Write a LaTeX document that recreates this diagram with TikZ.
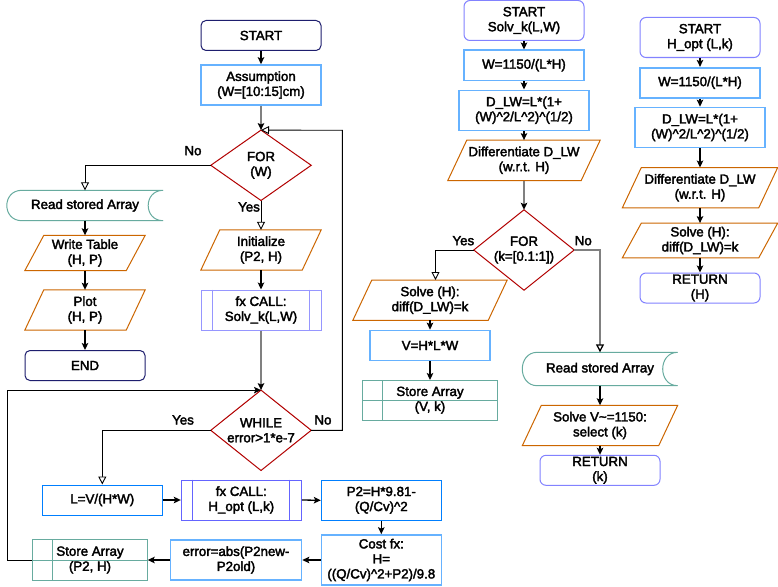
\documentclass[tikz,border=0pt]{standalone}
\usepackage{fontspec}
\usetikzlibrary{arrows.meta,calc}
\newfontfamily\dfont{Liberation Sans}[FakeBold=2.5]
\newcommand\crt{\textasciicircum}
\definecolor{navy}{RGB}{30,30,110}
\definecolor{lav}{RGB}{130,130,255}
\definecolor{fxa}{RGB}{150,150,255}
\definecolor{fxb}{RGB}{100,100,255}
\definecolor{blueL}{RGB}{102,178,255}
\definecolor{blueD}{RGB}{0,127,255}
\definecolor{tealc}{RGB}{103,171,159}
\definecolor{orangec}{RGB}{204,102,0}
\definecolor{redc}{RGB}{178,0,0}
\definecolor{grayc}{RGB}{128,128,128}
\newcommand\drawpara[1]{\draw[orangec,line width=1pt] ([xshift=19pt]#1.north west) -- (#1.north east) -- ([xshift=-19pt]#1.south east) -- (#1.south west) -- cycle;}
\newcommand\drawdia[1]{\draw[redc,line width=1pt] (#1.north) -- (#1.east) -- (#1.south) -- (#1.west) -- cycle;}
\newcommand\drawdatast[1]{\draw[tealc,line width=1pt] ([xshift=15pt]#1.north west) -- (#1.north east) .. controls ([xshift=-20pt]#1.north east) and ([xshift=-20pt]#1.south east) .. (#1.south east) -- ([xshift=15pt]#1.south west) .. controls ([xshift=-5pt]#1.south west) and ([xshift=-5pt]#1.north west) .. ([xshift=15pt]#1.north west) -- cycle;}
\newcommand\drawintst[1]{\draw[tealc,line width=1pt] (#1.north west) rectangle (#1.south east) ([xshift=20pt]#1.north west) -- ([xshift=20pt]#1.south west) (#1.west) -- (#1.east);}
\newcommand\drawfx[2]{\draw[#2,line width=1pt] ([xshift=12pt]#1.north west) -- ([xshift=12pt]#1.south west) ([xshift=-12pt]#1.north east) -- ([xshift=-12pt]#1.south east);}
\begin{document}
\begin{tikzpicture}[x=1pt,y=-1pt,
  base/.style={inner sep=0pt, align=center, font=\dfont\fontsize{13.3}{15}\selectfont, text=black},
  sz/.style 2 args={minimum width=#1pt, minimum height=#2pt},
  rnavy/.style={base, draw=navy, rounded corners=5pt, line width=1pt},
  rlav/.style={base, draw=lav, rounded corners=6pt, line width=1pt},
  bluet/.style={base, draw=blueL, line width=1.6pt},
  blued/.style={base, draw=blueD, line width=1pt},
  fxbox/.style={base, draw=#1, line width=1pt},
  plainbox/.style={base},
  lbl/.style={base},
  arr/.style={-{Stealth[length=7pt,width=6.5pt,inset=1.5pt]}, line width=1.3pt, black},
  arrg/.style={-{Stealth[length=7pt,width=6.5pt,inset=1.5pt,color=black]}, line width=1.5pt, grayc},
  opn/.style={-{Triangle[open,length=8pt,width=8pt,fill=white]}, line width=0.9pt, black},
  opng/.style={-{Triangle[open,length=8pt,width=8pt,fill=white,color=black]}, line width=1.3pt, grayc}
]
\fill[white] (0,0) rectangle (778,586);
\useasboundingbox (0,0) rectangle (778,586);

% ---------- main flow ----------
\node[rnavy, sz={120}{30}] (start) at (261,35.5) {START};
\node[bluet, sz={120}{40}] (assump) at (261,85) {Assumption\\(W=[10:15]cm)};
\node[plainbox, sz={100}{70}] (forW) at (261,165.3) {FOR\\(W)};
\drawdia{forW}
\node[plainbox, sz={156}{30}] (readL) at (85,205.5) {Read stored Array};
\drawdatast{readL}
\node[plainbox, sz={120}{35}] (write) at (85,253) {Write Table\\(H, P)};
\drawpara{write}
\node[plainbox, sz={120}{40}] (plot) at (85,310) {Plot\\(H, P)};
\drawpara{plot}
\node[rnavy, sz={120}{30}] (endn) at (85,365.5) {END};
\node[plainbox, sz={120}{40}] (init) at (261,250) {Initialize\\(P2, H)};
\drawpara{init}
\node[fxbox=fxa, sz={120}{40}] (fxS) at (261,310) {fx CALL:\\Solv\_k(L,W)};
\drawfx{fxS}{fxa}
\node[plainbox, sz={100}{80}] (whileD) at (261,430.3) {WHILE\\error>1*e-7};
\drawdia{whileD}
\node[blued, sz={120}{30}] (lbox) at (102.3,500) {L=V/(H*W)};
\node[fxbox=fxb, sz={120}{40}] (fxH) at (241.3,500) {fx CALL:\\H\_opt (L,k)};
\drawfx{fxH}{fxb}
\node[blued, sz={120}{40}] (p2) at (381.3,500.3) {P2=H*9.81-\\(Q/Cv)\crt2};
\node[bluet, sz={120}{50}] (cost) at (381.3,560) {Cost fx:\\H=\\((Q/Cv)\crt2+P2)/9.8};
\node[bluet, sz={131}{40}] (err) at (236,560) {error=abs(P2new-\\P2old)};
\node[plainbox, sz={115}{40}] (storeL) at (90,560) {Store Array\\(P2, H)};
\drawintst{storeL}

\node[lbl] (noW) at (193,150.7) {No};
\node[lbl] (yesW) at (249,207) {Yes};
\node[lbl] (yesWh) at (183,420) {Yes};
\node[lbl] (noWh) at (323,420) {No};

% ---------- Solv_k ----------
\node[rlav, sz={120}{40}] (startS) at (524,20.5) {START\\Solv\_k(L,W)};
\node[bluet, sz={120}{30}] (wS) at (524,65.3) {W=1150/(L*H)};
\node[bluet, sz={130}{40}] (dS) at (524,110.3) {D\_LW=L*(1+\\(W)\crt2/L\crt2)\crt(1/2)};
\node[plainbox, sz={152}{40}] (diffS) at (524,160.3) {Differentiate D\_LW\\(w.r.t. H)};
\drawpara{diffS}
\node[plainbox, sz={100}{80}] (forK) at (524,250) {FOR\\(k=[0.1:1])};
\drawdia{forK}
\node[plainbox, sz={154}{40}] (solveS) at (430,300.2) {Solve (H):\\diff(D\_LW)=k};
\drawpara{solveS}
\node[bluet, sz={120}{30}] (vS) at (430,345.5) {V=H*L*W};
\node[plainbox, sz={135}{40}] (storeS) at (430,400.2) {Store Array\\(V, k)};
\drawintst{storeS}
\node[plainbox, sz={155}{33}] (readR) at (600,369) {Read stored Array};
\drawdatast{readR}
\node[plainbox, sz={155}{40}] (solveV) at (600,425.5) {Solve V\textasciitilde=1150:\\select (k)};
\drawpara{solveV}
\node[rlav, sz={120}{30}] (retK) at (600,470.3) {RETURN\\(k)};
\node[lbl] (yesK) at (463.3,240.7) {Yes};
\node[lbl] (noK) at (583.3,240.7) {No};

% ---------- H_opt ----------
\node[rlav, sz={120}{40}] (startH) at (700,37.5) {START\\H\_opt (L,k)};
\node[bluet, sz={120}{30}] (wH) at (700,82.7) {W=1150/(L*H)};
\node[bluet, sz={130}{40}] (dH) at (700,127.5) {D\_LW=L*(1+\\(W)\crt2/L\crt2)\crt(1/2)};
\node[plainbox, sz={155}{40}] (diffH) at (700,187.7) {Differentiate D\_LW\\(w.r.t. H)};
\drawpara{diffH}
\node[plainbox, sz={155}{34.4}] (solveH) at (700,240.5) {Solve (H):\\diff(D\_LW)=k};
\drawpara{solveH}
\node[rlav, sz={120}{30}] (retH) at (700,288) {RETURN\\(H)};

% ---------- connectors ----------
\draw[arr] (start.south) -- (assump.north);
\draw[arrg] (assump.south) -- (forW.north);
\draw[opn] (forW.west) -| (readL.north);
\draw[arr] (readL.south) -- (write.north);
\draw[arr] (write.south) -- (plot.north);
\draw[arr] (plot.south) -- (endn.north);
\draw[opn] (forW.south) -- (init.north);
\draw[arr] (init.south) -- (fxS.north);
\draw[arrg] (fxS.south) -- (whileD.north);
\coordinate (loopR) at (342.3,130.3);
\draw[opn] (whileD.east) -| (loopR) -- (forW.north);
\draw[opn] (whileD.west) -| (lbox.north);
\draw[arr] (lbox.east) -- (fxH.west);
\draw[arr] (fxH.east) -- (p2.west);
\draw[arr] (p2.south) -- (cost.north);
\draw[arr] (cost.west) -- (err.east);
\draw[arr] (err.west) -- (storeL.east);
\coordinate (loopL) at (7.3,560);
\draw[arr, line width=1pt] (storeL.west) -- (loopL) |- (whileD.north);

\draw[arr] (startS.south) -- (wS.north);
\draw[arr] (wS.south) -- (dS.north);
\draw[arr] (dS.south) -- (diffS.north);
\draw[arrg] (diffS.south) -- (forK.north);
\draw[opn] (forK.west) -| ([xshift=5.5pt]solveS.north);
\draw[arr] (solveS.south) -- (vS.north);
\draw[arr] (vS.south) -- (storeS.north);
\draw[opng] (forK.east) -| (readR.north);
\draw[arr] (readR.south) -- (solveV.north);
\draw[arr] (solveV.south) -- (retK.north);

\draw[arr] (startH.south) -- (wH.north);
\draw[arr] (wH.south) -- (dH.north);
\draw[arr] (dH.south) -- (diffH.north);
\draw[arr] (diffH.south) -- (solveH.north);
\draw[arr] (solveH.south) -- (retH.north);
\end{tikzpicture}
\end{document}
